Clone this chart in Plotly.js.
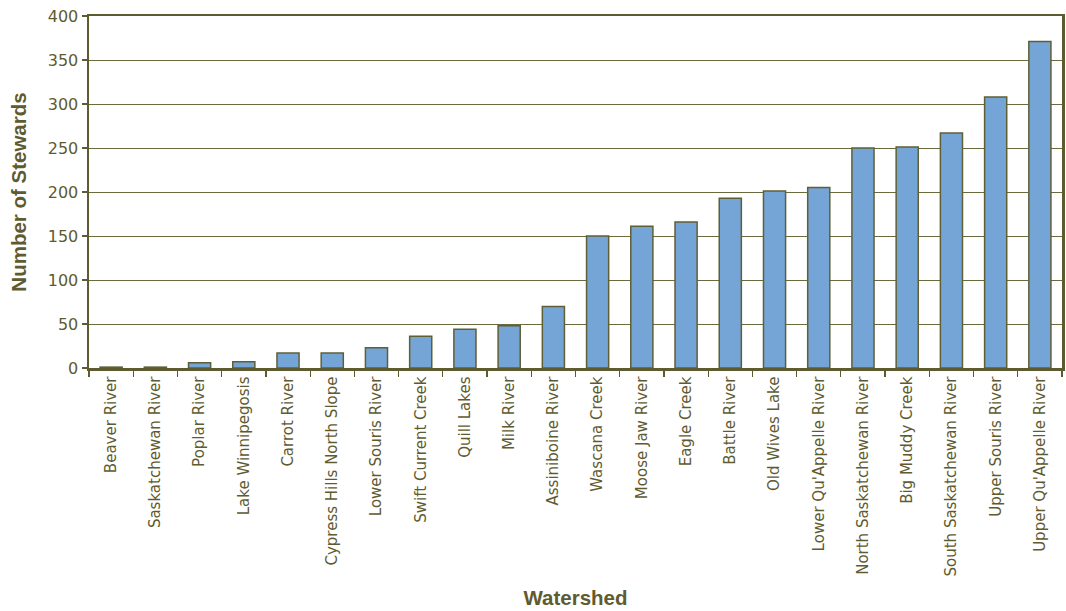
<!DOCTYPE html>
<html>
<head>
<meta charset="utf-8">
<script src="https://cdn.plot.ly/plotly-3.0.1.min.js"></script>
<style>html,body{margin:0;padding:0;background:#fff;}#chart{width:1066px;height:611px;}</style>
</head>
<body>
<div id="chart"></div>
<script>
const watersheds = ["Beaver River","Saskatchewan River","Poplar River","Lake Winnipegosis","Carrot River","Cypress Hills North Slope","Lower Souris River","Swift Current Creek","Quill Lakes","Milk River","Assiniboine River","Wascana Creek","Moose Jaw River","Eagle Creek","Battle River","Old Wives Lake","Lower Qu'Appelle River","North Saskatchewan River","Big Muddy Creek","South Saskatchewan River","Upper Souris River","Upper Qu'Appelle River"];
const stewards = [1,1,6,7,17,17,23,36,44,48,70,150,161,166,193,201,205,250,251,267,308,371];
const yTicks = [0,50,100,150,200,250,300,350,400];

const olive = "#5E5B30";
const tickFamily = "DejaVu Sans, Verdana, sans-serif";
const titleFamily = "Liberation Sans, Arial, sans-serif";
const trace = {
  type: "bar",
  x: watersheds,
  y: stewards,
  marker: {color: "#74A5D6", line: {color: "#5F5F35", width: 1.5}},
  hoverinfo: "x+y"
};
const layout = {
  width: 1066, height: 611,
  margin: {l: 89, r: 4, t: 16, b: 243},
  paper_bgcolor: "#fff", plot_bgcolor: "#fff",
  bargap: 0.5,
  showlegend: false,
  font: {family: tickFamily, color: olive},
  xaxis: {
    type: "category",
    tickangle: -90,
    tickfont: {size: 15, color: olive, family: tickFamily},
    ticks: "outside", ticklen: 6, tickcolor: olive, tickwidth: 1.2,
    tickson: "boundaries",
    showline: true, linecolor: olive, linewidth: 2.5, mirror: true,
    showgrid: false,
    title: {text: "Watershed", font: {size: 20.5, color: olive, family: titleFamily, weight: "bold"}, standoff: 15}
  },
  yaxis: {
    range: [0, 400],
    tickvals: yTicks,
    tickfont: {size: 16, color: olive, family: tickFamily},
    ticks: "outside", ticklen: 5, tickcolor: olive, tickwidth: 1.2,
    showline: true, linecolor: olive, linewidth: 2.5, mirror: true,
    showgrid: true, gridcolor: "#6B6A3C", gridwidth: 1,
    zeroline: false,
    title: {text: "Number of Stewards", font: {size: 20.5, color: olive, family: titleFamily, weight: "bold"}, standoff: 16}
  }
};
Plotly.newPlot("chart", [trace], layout, {displayModeBar: false, staticPlot: true});
</script>
</body>
</html>
